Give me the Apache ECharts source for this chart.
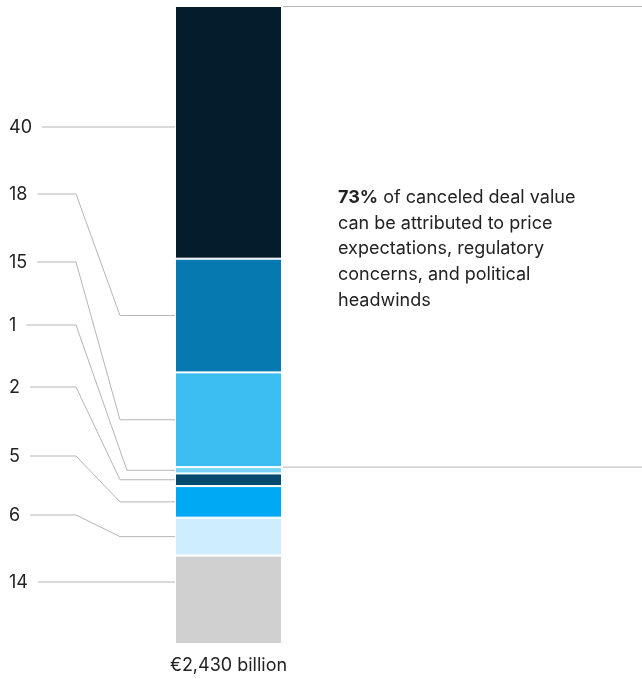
<!DOCTYPE html>
<html>
<head>
<meta charset="utf-8">
<script src="https://cdn.jsdelivr.net/npm/echarts@6/dist/echarts.min.js"></script>
<style>
  html, body { margin: 0; padding: 0; background: #fff; }
  #chart { width: 642px; height: 679px; }
</style>
</head>
<body>
<div id="chart"></div>
<script>
// data, top segment first
const segmentLabels = ["40", "18", "15", "1", "2", "5", "6", "14"];
const segmentValues = [40, 18, 15, 1, 2, 5, 6, 14];
const segmentColors = ["#051c2c", "#0679b1", "#3cbef2", "#76d3f3", "#044b6f", "#00a9f4", "#cfeefd", "#d0d0d0"];
const highlightCount = 3; // price expectations, regulatory, political
const totalLabel = "€2,430 billion";
const calloutBold = "73%";
const calloutLines = ["of canceled deal value", "can be attributed to price", "expectations, regulatory", "concerns, and political", "headwinds"];

// layout of the leader labels (pixel y of label, elbow x at bar side or null for straight)
const labelY = [127, 194, 262, 325, 387, 456, 515, 582];
const elbowX = [null, 120, 120, 127, 120, 120, 120, null];

const FONT = "Inter, 'Liberation Sans', Arial, sans-serif";
const FS = 18;
const TEXT = "#222222";
const LINE = "#b5b5b5";
const BAR_LEFT = 175, BAR_RIGHT = 282;

const total = segmentValues.reduce((a, b) => a + b, 0);

const chart = echarts.init(document.getElementById("chart"));
chart.setOption({
  animation: false,
  backgroundColor: "#fff",
  grid: { left: BAR_LEFT, right: 642 - BAR_RIGHT, top: 6, bottom: 35 },
  xAxis: { type: "category", data: [""], show: false },
  yAxis: { type: "value", inverse: true, min: 0, max: total, show: false },
  series: segmentValues.map((v, i) => ({
    type: "bar",
    stack: "total",
    barWidth: "100%",
    silent: true,
    data: [v],
    itemStyle: { color: segmentColors[i], borderColor: "#fff", borderWidth: 1 }
  }))
});

const yPx = (v) => chart.convertToPixel({ yAxisIndex: 0 }, v);
const ctx = document.createElement("canvas").getContext("2d");
ctx.font = FS + "px " + FONT;

const graphics = [];
let cum = 0;
segmentValues.forEach((v, i) => {
  const mid = yPx(cum + v / 2);
  cum += v;
  const ly = labelY[i];
  const startX = 10 + ctx.measureText(segmentLabels[i]).width + 9;
  const pts = elbowX[i] == null
    ? [[startX, ly], [BAR_LEFT, ly]]
    : [[startX, ly], [76, ly], [elbowX[i], mid], [BAR_LEFT, mid]];
  graphics.push({
    type: "polyline", silent: true,
    shape: { points: pts },
    style: { stroke: LINE, lineWidth: 1, fill: null }
  });
  graphics.push({
    type: "text", silent: true, x: 9, y: ly + 1,
    style: { text: segmentLabels[i], font: FS + "px " + FONT, fill: TEXT, verticalAlign: "middle" }
  });
});

// bracket lines for highlighted share
const highlightSum = segmentValues.slice(0, highlightCount).reduce((a, b) => a + b, 0);
[yPx(0) + 0.5, yPx(highlightSum)].forEach((y) => {
  graphics.push({
    type: "line", silent: true,
    shape: { x1: BAR_RIGHT + 1, y1: y, x2: 642, y2: y },
    style: { stroke: LINE, lineWidth: 1 }
  });
});

graphics.push({
  type: "text", silent: true, x: 338, y: 185,
  style: {
    text: "{b|" + calloutBold + "} " + calloutLines.join("\n"),
    font: FS + "px " + FONT, fill: TEXT, lineHeight: 25.6,
    rich: { b: { fontWeight: "bold", fontSize: FS, fontFamily: FONT, fill: TEXT, lineHeight: 25.6 } }
  }
});

graphics.push({
  type: "text", silent: true, x: (BAR_LEFT + BAR_RIGHT) / 2, y: 666,
  style: { text: totalLabel, font: FS + "px " + FONT, fill: TEXT, align: "center", verticalAlign: "middle" }
});

chart.setOption({ graphic: graphics });
</script>
</body>
</html>
